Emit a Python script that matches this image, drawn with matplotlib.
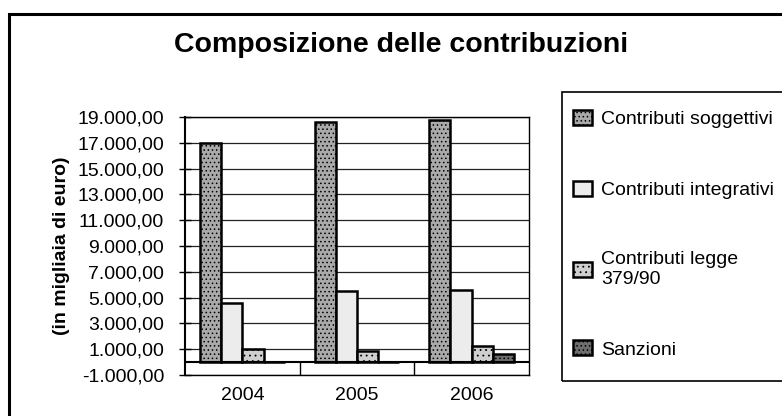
import numpy as np
import matplotlib
matplotlib.use("Agg")
import matplotlib.pyplot as plt
from matplotlib.patches import Rectangle
from matplotlib.ticker import FuncFormatter

plt.rcParams['font.family'] = ['Liberation Sans', 'DejaVu Sans']
plt.rcParams['hatch.linewidth'] = 0.6

anni = ['2004', '2005', '2006']
serie = ['Contributi soggettivi', 'Contributi integrativi',
         'Contributi legge\n379/90', 'Sanzioni']
soggettivi = [17000, 18650, 18750]
integrativi = [4600, 5550, 5600]
legge_379_90 = [1050, 850, 1250]
sanzioni = [30, 30, 600]
yticks = np.arange(-1000, 19001, 2000)

valori = [soggettivi, integrativi, legge_379_90, sanzioni]
colori = ['#a9a9a9', '#ececec', '#cfcfcf', '#6e6e6e']
tratti = ['....', '', '...', '....']

fig = plt.figure(figsize=(7.82, 4.16), dpi=100)
ax = fig.add_axes([185/782, 41/416, 344/782, 258/416])

x = np.arange(len(anni))
w = 0.185
for i, (v, c, h) in enumerate(zip(valori, colori, tratti)):
    ax.bar(x - 1.5*w + i*w, v, width=w, color=c, edgecolor='black',
           linewidth=1.8, hatch=h, label=serie[i], zorder=3)

ax.set_xlim(-0.5, 2.5)
ax.set_ylim(-1000, 19000)
ax.set_yticks(yticks)
ax.yaxis.set_major_formatter(FuncFormatter(
    lambda v, p: f"{v:,.2f}".replace(',', 'X').replace('.', ',').replace('X', '.')))
ax.grid(axis='y', color='#222222', linewidth=0.9, zorder=0)
ax.tick_params(axis='y', direction='inout', length=8, width=1, pad=11, labelsize=14)
ax.set_xticks(x)
ax.set_xticklabels(anni)
ax.tick_params(axis='x', length=0, pad=9, labelsize=14)
ax.axhline(0, color='black', linewidth=1.5, zorder=4)
ax.vlines([0.5, 1.5], -1000, 0, color='black', linewidth=1, zorder=4)
for s in ax.spines.values():
    s.set_linewidth(1)
ax.spines['left'].set_linewidth(1.5)

ax.set_ylabel('(in migliaia di euro)', fontsize=14, fontweight='bold')
ax.yaxis.set_label_coords(-115/344, 0.5)

fig.text(401/782, 1 - 45/416, 'Composizione delle contribuzioni',
         ha='center', va='center', fontsize=20.5, fontweight='bold')

# cornice esterna e riquadro legenda
fig.patches.append(Rectangle((9/782, -0.05), 1.1, 0.05 + (416-14)/416,
                             transform=fig.transFigure, fill=False,
                             edgecolor='black', linewidth=2.2))
fig.patches.append(Rectangle((562/782, 35/416), 0.4, (381-92)/416,
                             transform=fig.transFigure, fill=False,
                             edgecolor='black', linewidth=1.2))

fig.legend(loc='upper left', bbox_to_anchor=(573/782, 1 - 110/416),
           frameon=False, fontsize=14, handlelength=1.0, handleheight=0.8,
           handletextpad=0.45, labelspacing=2.7, borderpad=0, borderaxespad=0)

fig.savefig('out.png', dpi=100)
